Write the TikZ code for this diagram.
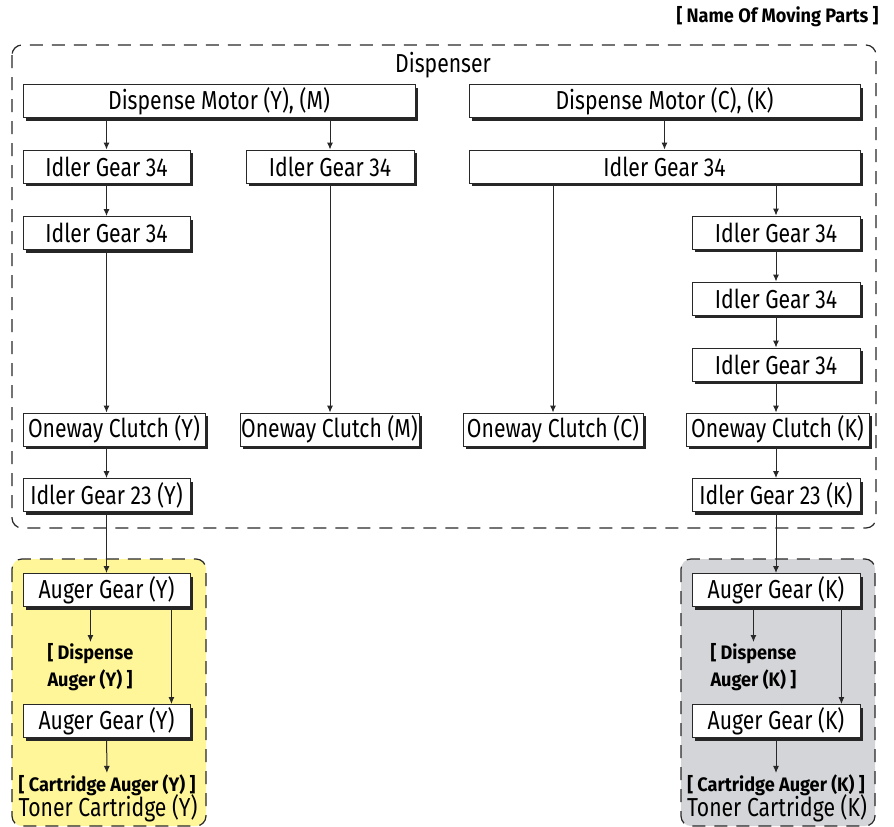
\documentclass[tikz,border=0pt]{standalone}
\usepackage{fontspec}
\setmainfont{Fira Sans}[FakeStretch=0.815]
\newfontfamily\tagfont{Fira Sans}[FakeStretch=0.93]
\usetikzlibrary{arrows.meta}
\definecolor{cartY}{RGB}{255,245,153}
\definecolor{cartK}{RGB}{212,213,216}
\definecolor{lineGray}{RGB}{40,40,40}

\begin{document}
\begin{tikzpicture}[x=1pt,y=-1pt,line width=1pt,
  part/.style={draw=lineGray,fill=white,line width=.9pt,minimum height=33pt,inner sep=0pt,
    font=\fontsize{26}{28}\selectfont,
    preaction={draw=none,fill=black!85,transform canvas={shift={(3pt,-3pt)}}}},
  tag/.style={font=\tagfont\bfseries\fontsize{19.5}{27}\selectfont,inner sep=1pt,align=left},
  title/.style={font=\fontsize{26}{28}\selectfont,inner sep=0pt},
  arr/.style={-{Latex[length=7pt,width=6pt]},draw=lineGray,line width=1pt},
  frame/.style={draw=lineGray,dash pattern=on 13pt off 9pt,line width=1.2pt,rounded corners=10pt}]
\useasboundingbox (0,0) rectangle (894,827);

% frames
\draw[frame] (12,45) rectangle (876,528);
\draw[frame,fill=cartY] (12,559) rectangle (206,826);
\draw[frame,fill=cartK] (681,559) rectangle (875,826);
\node[tag,anchor=east] (legend) at (880,17) {[ Name Of Moving Parts ]};
\node[title] (disp) at (443,65) {Dispenser};

% motors and gears
\node[part,minimum width=392pt] (motYM) at (219,101) {Dispense Motor (Y), (M)};
\node[part,minimum width=391pt] (motCK) at (664.5,101) {Dispense Motor (C), (K)};
\node[part,minimum width=167pt] (ig1) at (106.5,166.5) {Idler Gear 34};
\node[part,minimum width=168pt] (ig2) at (330,166.5) {Idler Gear 34};
\node[part,minimum width=391pt] (igR) at (664.5,166.5) {Idler Gear 34};
\node[part,minimum width=167pt] (ig3) at (106.5,233) {Idler Gear 34};
\node[part,minimum width=168pt] (igK1) at (776,232.5) {Idler Gear 34};
\node[part,minimum width=168pt] (igK2) at (776,298.5) {Idler Gear 34};
\node[part,minimum width=168pt] (igK3) at (776,364.5) {Idler Gear 34};
\node[part,minimum width=182pt] (ocY) at (114,429.5) {Oneway Clutch (Y)};
\node[part,minimum width=179pt] (ocM) at (329.5,429.5) {Oneway Clutch (M)};
\node[part,minimum width=180pt] (ocC) at (553,429.5) {Oneway Clutch (C)};
\node[part,minimum width=183pt] (ocK) at (777.5,429.5) {Oneway Clutch (K)};
\node[part,minimum width=167pt] (igY23) at (106.5,495) {Idler Gear 23 (Y)};
\node[part,minimum width=168pt] (igK23) at (776,495) {Idler Gear 23 (K)};

% toner cartridges
\node[part,minimum width=167pt] (augY1) at (106.5,590) {Auger Gear (Y)};
\node[part,minimum width=167pt] (augY2) at (106.5,721) {Auger Gear (Y)};
\node[part,minimum width=168pt] (augK1) at (776,590) {Auger Gear (K)};
\node[part,minimum width=168pt] (augK2) at (776,721) {Auger Gear (K)};
\node[tag,anchor=north west] (dAugY) at (46,642) {[ Dispense\\Auger (Y) ]};
\node[tag,anchor=north west] (dAugK) at (709,642) {[ Dispense\\Auger (K) ]};
\node[tag] (cAugY) at (107,785) {[ Cartridge Auger (Y) ]};
\node[tag] (cAugK) at (776,785) {[ Cartridge Auger (K) ]};
\node[title] (tonerY) at (108,808) {Toner Cartridge (Y)};
\node[title] (tonerK) at (777,808) {Toner Cartridge (K)};

% drive train
\draw[arr] (motYM.south -| ig1.north) -- (ig1.north);
\draw[arr] (motYM.south -| ig2.north) -- (ig2.north);
\draw[arr] (motCK.south) -- (igR.north);
\draw[arr] (ig1) -- (ig3);
\draw[arr] (ig3.south) -- (ocY.north -| ig3.south);
\draw[arr] (ig2.south) -- (ocM.north -| ig2.south);
\draw[arr] (igR.south -| ocC.north) -- (ocC.north);
\draw[arr] (igR.south -| igK1.north) -- (igK1.north);
\draw[arr] (igK1) -- (igK2);
\draw[arr] (igK2) -- (igK3);
\draw[arr] (igK3.south) -- (ocK.north -| igK3.south);
\draw[arr] (ocY.south -| igY23.north) -- (igY23.north);
\draw[arr] (ocK.south -| igK23.north) -- (igK23.north);
\draw[arr] (igY23) -- (augY1);
\draw[arr] (igK23) -- (augK1);
\draw[arr] (augY1.south -| dAugY.north) -- (dAugY.north);
\draw[arr] (augK1.south -| dAugK.north) -- (dAugK.north);
\draw[arr] ([xshift=-19pt]augY1.south east) -- ([xshift=-19pt]augY2.north east);
\draw[arr] ([xshift=-19pt]augK1.south east) -- ([xshift=-19pt]augK2.north east);
\draw[arr] (augY2) -- (cAugY);
\draw[arr] (augK2) -- (cAugK);
\end{tikzpicture}
\end{document}
